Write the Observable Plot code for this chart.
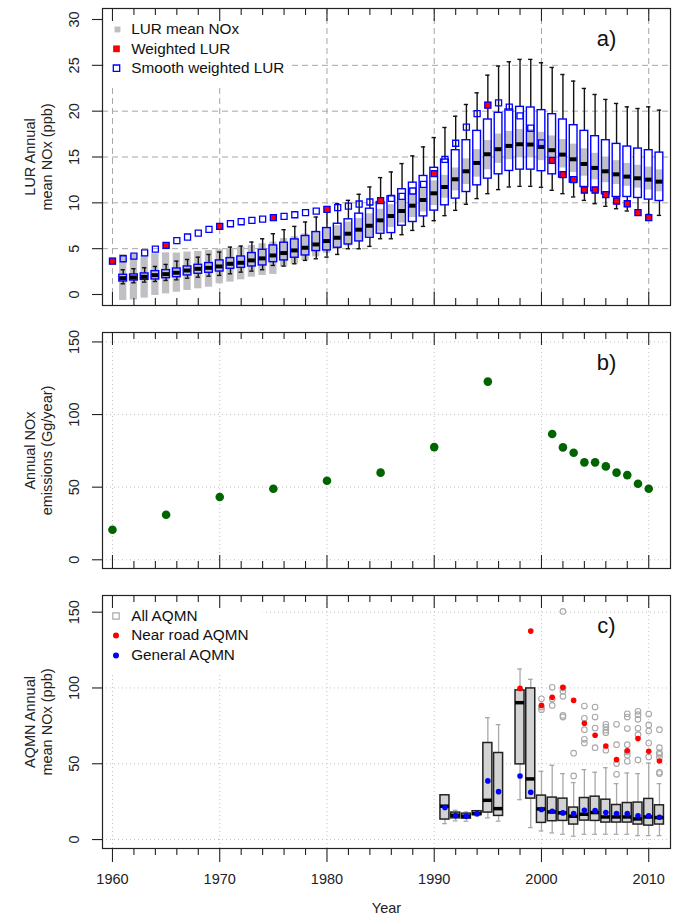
<!DOCTYPE html>
<html><head><meta charset="utf-8">
<script src="https://cdn.jsdelivr.net/npm/d3@7"></script>
<script src="https://cdn.jsdelivr.net/npm/@observablehq/plot@0.6"></script>
<style>
body{margin:0;background:#fff}
#chart{position:relative;width:679px;height:922px;background:#fff}
</style></head><body><div id="chart"></div>
<script>
// ---------- Panel a: LUR boxplots ----------
const lurYears = [1961,1962,1963,1964,1965,1966,1967,1968,1969,1970,1971,1972,1973,1974,1975,1976,1977,1978,1979,1980,1981,1982,1983,1984,1985,1986,1987,1988,1989,1990,1991,1992,1993,1994,1995,1996,1997,1998,1999,2000,2001,2002,2003,2004,2005,2006,2007,2008,2009,2010,2011];
const lurLo  = [1.17,1.28,1.35,1.42,1.53,1.60,1.78,1.89,2.00,2.08, 2.26,2.44,2.55,2.70,3.17,3.10,3.35,3.72,3.90,4.08, 4.37,4.99,4.99,5.25,6.08,6.08,6.52,6.99,7.43,8.05, 8.60,9.18,9.84,10.46,11.00,11.44,11.73,11.80,11.80,11.70, 11.37,11.00,10.64,10.27,9.91,9.62,9.36,9.11,8.89,8.74,8.63];
const lurQ1  = [1.42,1.53,1.60,1.64,1.78,1.89,2.08,2.26,2.37,2.51, 2.80,2.91,3.06,3.17,3.53,3.72,4.01,4.26,4.74,4.81, 5.10,5.46,5.79,6.19,6.63,6.70,7.50,7.91,8.52,9.15, 9.73,10.46,11.18,11.91,12.64,13.11,13.48,13.62,13.62,13.45, 13.11,12.75,12.20,11.73,11.26,10.93,10.64,10.64,10.53,10.35,10.20];
const lurMed = [1.78,1.86,1.93,2.11,2.22,2.37,2.62,2.80,2.91,3.06, 3.35,3.46,3.72,3.94,4.26,4.52,4.81,5.10,5.46,5.83, 6.19,6.63,7.07,7.50,8.09,8.56,9.11,9.69,10.31,11.04, 11.73,12.57,13.44,14.35,15.30,15.85,16.21,16.39,16.36,16.10, 15.74,15.26,14.75,14.24,13.81,13.44,13.11,12.86,12.68,12.53,12.31];
const lurQ3  = [2.15,2.19,2.30,2.55,2.66,2.84,3.06,3.24,3.43,3.72, 3.97,4.15,4.52,4.88,5.35,5.65,6.01,6.38,6.81,7.25, 7.72,8.20,8.82,9.36,10.09,10.71,11.48,12.20,12.93,13.82, 14.72,15.74,16.83,17.85,19.09,19.82,20.18,20.47,20.40,20.11, 19.67,19.09,18.47,17.85,17.27,16.83,16.43,16.14,15.92,15.74,15.48];
const lurHi  = [2.70,2.81,2.92,3.06,3.28,3.64,3.82,4.07,4.37,4.63, 5.17,5.28,5.72,6.08,6.63,7.07,7.43,7.91,8.45,9.36, 9.91,10.27,10.93,11.73,12.75,13.37,14.28,15.12,16.10,17.12, 18.22,19.45,20.73,22.00,23.93,24.92,25.39,25.65,25.65,25.28, 24.77,24.00,23.28,22.48,21.82,21.28,20.84,20.47,20.29,20.47,20.11];
const lurMeanLo = [-0.66,-0.59,-0.40,-0.11,0.07,0.25,0.44,0.62,0.80,1.17, 1.35,1.60,1.89,2.08,2.19,3.0,3.3,3.7,4.1,4.5, 4.9,5.3,5.8,6.3,6.8,7.3,7.8,8.4,9.0,9.7, 10.5,11.3,12.0,12.8,13.6,14.3,14.7,14.9,14.9,14.6, 14.2,13.8,13.3,12.9,12.5,12.2,12.0,11.8,11.6,11.4,11.2];
const lurMeanHi = [4.37,4.37,4.26,4.44,4.55,4.52,4.63,4.70,4.81,4.88, 4.99,5.17,5.35,5.54,5.72,6.1,6.3,6.6,6.9,7.2, 7.5,7.9,8.3,8.8,9.3,9.8,10.4,11.0,11.6,12.4, 13.0,13.8,14.8,15.8,16.8,17.5,17.8,18.0,18.0,17.7, 17.3,16.9,16.4,15.9,15.4,15.0,14.6,14.3,14.1,13.9,13.6];

const weightedYears = [1960,1965,1970,1975,1980,1985,1990,1995,2001,2002,2003,2004,2005,2006,2007,2008,2009,2010];
const weightedVals  = [3.64,5.36,7.43,8.38,9.29,10.24,13.19,20.66,14.64,13.08,12.53,11.40,11.40,10.90,10.20,9.90,8.93,8.38];

const smoothYears = [1960,1961,1962,1963,1964,1965,1966,1967,1968,1969,1970,1971,1972,1973,1974,1975,1976,1977,1978,1979,1980,1981,1982,1983,1984,1985,1986,1987,1988,1989,1990,1991,1992,1993,1994,1995,1996,1997,1998,1999,2000,2001,2002,2003,2004,2005,2006,2007,2008,2009,2010];
const smoothVals  = [3.64,3.90,4.19,4.55,4.95,5.36,5.87,6.27,6.70,7.10, 7.43,7.72,7.94,8.09,8.23,8.38,8.52,8.70,8.93,9.10, 9.29,9.47,9.65,9.87,10.09,10.24,10.49,10.71,11.29,12.02, 13.19,14.75,16.50,18.25,19.74,20.66,20.90,20.44,19.49,18.14, 16.54,14.64,13.08,12.53,11.40,11.40,10.90,10.20,9.90,8.93, 8.38];

// ---------- Panel b: emissions ----------
const emisYears = [1960,1965,1970,1975,1980,1985,1990,1995,2001,2002,2003,2004,2005,2006,2007,2008,2009,2010];
const emisVals  = [20.7,31.0,43.2,48.9,54.4,60.0,77.6,122.7,86.6,77.4,73.7,67.1,67.1,64.3,60.0,58.3,52.4,48.9];

// ---------- Panel c: AQMN ----------
const aqmnYears = [1991,1992,1993,1994,1995,1996,1998,1999,2000,2001,2002,2003,2004,2005,2006,2007,2008,2009,2010,2011];
const aqmnLo  = [10.5,12.3,12.1,15.6,14.3,12.1,26.3,7.9,5.7,4.4,3.5,2.2,3.5,3.5,3.5,3.5,3.5,2.6,2.6,2.6];
const aqmnQ1  = [13.2,14.0,13.8,16.2,17.8,15.6,49.6,27.0,11.0,12.1,12.3,9.9,12.5,12.3,11.2,11.2,11.2,9.9,9.2,9.9];
const aqmnMed = [22.0,16.0,15.4,17.1,25.9,20.4,90.3,40.0,20.2,18.2,17.6,15.4,16.7,17.8,14.9,14.9,14.9,13.6,14.9,14.5];
const aqmnQ3  = [29.2,17.8,17.1,18.7,63.7,57.1,98.4,99.7,29.0,27.7,27.0,21.1,27.4,28.3,26.3,22.8,24.1,24.4,26.8,22.6];
const aqmnHi  = [29.2,19.3,18.2,18.9,80.4,75.8,112.5,105.7,45.0,49.0,43.5,37.6,46.1,44.4,47.4,36.9,43.9,43.5,50.5,36.9];

const outlierYears = [2000,2000,2000, 2001,2001,2001, 2002,2002,2002,2002,2002,2002, 2003,2003, 2004,2004,2004,2004,2004, 2005,2005,2005,2005, 2006,2006,2006,2006,2006, 2007,2007,2007,2007, 2008,2008,2008,2008,2008,2008,2008, 2009,2009,2009,2009,2009,2009, 2010,2010,2010,2010,2010, 2011,2011,2011,2011,2011,2011,2011];
const outlierVals  = [92.9,87.4,85.7, 100.4,92.7,88.5, 150.5,99.9,97.8,94.5,81.9,80.8, 57.0,42.0, 88.1,80.0,72.5,66.1,63.7, 87.4,80.8,73.6,60.6, 76.0,74.2,72.1,70.5,58.9, 76.0,62.6,50.1,43.0, 83.0,80.8,73.2,62.6,57.8,55.6,51.6, 84.6,82.4,79.3,73.4,69.2,52.5, 82.8,75.6,71.6,63.7,54.5, 72.5,60.6,57.3,56.2,54.0,44.4,43.5];

const nearRoadYears = [1998,1999,2000,2001,2002,2003,2004,2005,2006,2007,2008,2009,2010,2011];
const nearRoadVals  = [99.7,137.5,88.5,93.8,100.4,91.8,76.7,68.8,61.7,52.7,58.6,66.6,58.2,51.8];
const generalYears = [1991,1992,1993,1994,1995,1996,1998,1999,2000,2001,2002,2003,2004,2005,2006,2007,2008,2009,2010,2011];
const generalVals  = [21.1,15.8,15.4,17.1,38.7,31.6,41.9,31.2,19.8,18.7,17.6,17.1,19.3,19.1,17.8,17.1,17.1,15.6,15.6,14.7];

// ---------- axes ----------
const majorYears = [1960,1970,1980,1990,2000,2010];
const minorYears = [1962,1964,1966,1968,1972,1974,1976,1978,1982,1984,1986,1988,1992,1994,1996,1998,2002,2004,2006,2008];
const aTicks = [0,5,10,15,20,25,30];
const aGrid = [5,10,15,20,25];
const bTicks = [0,50,100,150];
const cTicks = [0,50,100,150];
const legendA = ["LUR mean NOx","Weighted LUR","Smooth weighted LUR"];
const legendC = ["All AQMN","Near road AQMN","General AQMN"];

// ---------- tables ----------
const lur = lurYears.map((year,i)=>({year, lo:lurLo[i], q1:lurQ1[i], med:lurMed[i], q3:lurQ3[i], hi:lurHi[i], gLo:lurMeanLo[i], gHi:lurMeanHi[i]}));
const weighted = weightedYears.map((year,i)=>({year, v:weightedVals[i]}));
const smooth = smoothYears.map((year,i)=>({year, v:smoothVals[i]}));
const emis = emisYears.map((year,i)=>({year, v:emisVals[i]}));
const aqmn = aqmnYears.map((year,i)=>({year, lo:aqmnLo[i], q1:aqmnQ1[i], med:aqmnMed[i], q3:aqmnQ3[i], hi:aqmnHi[i]}));
const outliers = outlierYears.map((year,i)=>({year, v:outlierVals[i]}));
const nearRoad = nearRoadYears.map((year,i)=>({year, v:nearRoadVals[i]}));
const general = generalYears.map((year,i)=>({year, v:generalVals[i]}));

const FONT = '"Liberation Sans", Arial, Helvetica, sans-serif';
const xDomain = [1959.07, 2012.03];
const ML = 102, MR = 9, FW = 679 - ML - MR;
const chart = document.getElementById("chart");

function frameMarks(H, yTicks, title, tag, bottomInside) {
  const ts = {stroke: "#222", strokeWidth: 1.1};
  const m = [
    Plot.tickX(majorYears, {x: d => d, insetBottom: H - 13, ...ts}),
    Plot.tickX(minorYears, {x: d => d, insetBottom: H - 7, ...ts})
  ];
  if (bottomInside) m.push(
    Plot.tickX(majorYears, {x: d => d, insetTop: H - 13, ...ts}),
    Plot.tickX(minorYears, {x: d => d, insetTop: H - 7, ...ts})
  );
  m.push(
    Plot.axisY({ticks: yTicks, tickSize: 10, tickFormat: () => "", label: null, strokeWidth: 1.1}),
    Plot.text(yTicks, {y: d => d, text: d => String(d), frameAnchor: "left", dx: -28, rotate: -90, textAnchor: "middle", lineAnchor: "middle", fontSize: 14.5, fill: "#222"}),
    Plot.text([title], {text: d => d, frameAnchor: "left", dx: -64, rotate: -90, textAnchor: "middle", lineAnchor: "middle", fontSize: 14.5, lineHeight: 1.17, fill: "#222"}),
    Plot.text([tag], {text: d => d, frameAnchor: "top-right", dx: -64, dy: 30, textAnchor: "middle", lineAnchor: "middle", fontSize: 22, fill: "#111"}),
    Plot.frame({stroke: "#222", strokeWidth: 1.2})
  );
  return m;
}

function addPanel(top, height, mt, mb, yDomain, marks) {
  const svg = Plot.plot({
    width: 679, height, marginTop: mt, marginBottom: mb, marginLeft: ML, marginRight: MR,
    x: {domain: xDomain, axis: null},
    y: {domain: yDomain, axis: null},
    style: {fontFamily: FONT, background: "transparent", color: "#222", overflow: "visible"},
    marks
  });
  svg.style.position = "absolute";
  svg.style.left = "0px";
  svg.style.top = top + "px";
  chart.appendChild(svg);
}

// ---- Panel a ----
const Ha = 318 - 8 - 13;
const bw = 0.36, gw = 0.34, cw = 0.2, mw = 0.32;
addPanel(0, 318, 8, 13, [-1.2, 31.2], [
  Plot.ruleX(majorYears, {x: d => d, stroke: "#a6a6a6", strokeDasharray: "6,4", strokeWidth: 1}),
  Plot.ruleY(aGrid, {y: d => d, stroke: "#a6a6a6", strokeDasharray: "6,4", strokeWidth: 1}),
  Plot.rect(lur, {x1: d => d.year - bw, x2: d => d.year + bw, y1: "q1", y2: "q3", fill: "white"}),
  Plot.rect(lur, {x1: d => d.year - gw, x2: d => d.year + gw, y1: "gLo", y2: "gHi", fill: "#c0c0c4"}),
  Plot.ruleX(lur, {x: "year", y1: "lo", y2: "q1", stroke: "#111", strokeWidth: 1.4}),
  Plot.ruleX(lur, {x: "year", y1: "q3", y2: "hi", stroke: "#111", strokeWidth: 1.4}),
  Plot.ruleY(lur, {y: "lo", x1: d => d.year - cw, x2: d => d.year + cw, stroke: "#111", strokeWidth: 1.4}),
  Plot.ruleY(lur, {y: "hi", x1: d => d.year - cw, x2: d => d.year + cw, stroke: "#111", strokeWidth: 1.4}),
  Plot.rect(lur, {x1: d => d.year - bw, x2: d => d.year + bw, y1: "q1", y2: "q3", fill: "none", stroke: "#0000ff", strokeWidth: 1.4}),
  Plot.ruleY(lur, {y: "med", x1: d => d.year - mw, x2: d => d.year + mw, stroke: "#000", strokeWidth: 4}),
  Plot.dot(weighted, {x: "year", y: "v", symbol: "square", fill: "#ff0000", r: 3.8}),
  Plot.dot(smooth, {x: "year", y: "v", symbol: "square", fill: "none", stroke: "#0000ff", strokeWidth: 1.3, r: 3.4}),
  // legend
  Plot.frame({fill: "white", stroke: "none", insetLeft: 1, insetTop: 1, insetRight: FW - 185, insetBottom: Ha - 76}),
  Plot.dot([legendA[0]], {frameAnchor: "top-left", dx: 15, dy: 21, symbol: "square", fill: "#bebebe", r: 3.3}),
  Plot.dot([legendA[1]], {frameAnchor: "top-left", dx: 14, dy: 40.3, symbol: "square", fill: "#ff0000", r: 3.8}),
  Plot.dot([legendA[2]], {frameAnchor: "top-left", dx: 14, dy: 59.7, symbol: "square", fill: "none", stroke: "#0000ff", strokeWidth: 1.3, r: 3.6}),
  Plot.text([legendA[0]], {text: d => d, frameAnchor: "top-left", dx: 28.7, dy: 21, textAnchor: "start", lineAnchor: "middle", fontSize: 15.3, fill: "#111"}),
  Plot.text([legendA[1]], {text: d => d, frameAnchor: "top-left", dx: 28.7, dy: 40.3, textAnchor: "start", lineAnchor: "middle", fontSize: 15.3, fill: "#111"}),
  Plot.text([legendA[2]], {text: d => d, frameAnchor: "top-left", dx: 28.7, dy: 59.7, textAnchor: "start", lineAnchor: "middle", fontSize: 15.3, fill: "#111"}),
  ...frameMarks(Ha, aTicks, "LUR Annual\nmean NOx (ppb)", "a)", true)
]);

// ---- Panel b ----
const Hb = 262 - 14 - 12;
addPanel(318, 262, 14, 12, [-6, 156.5], [
  Plot.ruleX(majorYears, {x: d => d, stroke: "#c4c4c4", strokeDasharray: "1,3", strokeWidth: 1}),
  Plot.ruleY(bTicks, {y: d => d, stroke: "#c4c4c4", strokeDasharray: "1,3", strokeWidth: 1}),
  Plot.dot(emis, {x: "year", y: "v", fill: "#006400", r: 4.3}),
  ...frameMarks(Hb, bTicks, "Annual NOx\nemissions (Gg/year)", "b)", true)
]);

// ---- Panel c ----
const Hc = 342 - 15 - 74;
const cbw = 0.42, ccw = 0.22;
addPanel(580, 342, 15, 74, [-5.9, 161], [
  Plot.ruleX(majorYears, {x: d => d, stroke: "#c4c4c4", strokeDasharray: "1,3", strokeWidth: 1}),
  Plot.ruleY(cTicks, {y: d => d, stroke: "#c4c4c4", strokeDasharray: "1,3", strokeWidth: 1}),
  Plot.ruleX(aqmn, {x: "year", y1: "lo", y2: "q1", stroke: "#a8a8a8", strokeWidth: 1.3}),
  Plot.ruleX(aqmn, {x: "year", y1: "q3", y2: "hi", stroke: "#a8a8a8", strokeWidth: 1.3}),
  Plot.ruleY(aqmn, {y: "lo", x1: d => d.year - ccw, x2: d => d.year + ccw, stroke: "#a8a8a8", strokeWidth: 1.3}),
  Plot.ruleY(aqmn, {y: "hi", x1: d => d.year - ccw, x2: d => d.year + ccw, stroke: "#a8a8a8", strokeWidth: 1.3}),
  Plot.rect(aqmn, {x1: d => d.year - cbw, x2: d => d.year + cbw, y1: "q1", y2: "q3", fill: "#d3d3d3", stroke: "#222", strokeWidth: 1.5}),
  Plot.ruleY(aqmn, {y: "med", x1: d => d.year - cbw, x2: d => d.year + cbw, stroke: "#000", strokeWidth: 3.5}),
  Plot.dot(outliers, {x: "year", y: "v", r: 2.8, stroke: "#a8a8a8", fill: "none", strokeWidth: 1.1}),
  Plot.dot(nearRoad, {x: "year", y: "v", r: 2.8, fill: "#ff0000"}),
  Plot.dot(general, {x: "year", y: "v", r: 2.8, fill: "#0000ff"}),
  // legend
  Plot.frame({fill: "white", stroke: "none", insetLeft: 1, insetTop: 1, insetRight: FW - 160, insetBottom: Hc - 78}),
  Plot.dot([legendC[0]], {frameAnchor: "top-left", dx: 13.5, dy: 20.5, symbol: "square", fill: "none", stroke: "#a8a8a8", strokeWidth: 1.2, r: 3.6}),
  Plot.dot([legendC[1]], {frameAnchor: "top-left", dx: 13.5, dy: 40, fill: "#ff0000", r: 3}),
  Plot.dot([legendC[2]], {frameAnchor: "top-left", dx: 13.5, dy: 60, fill: "#0000ff", r: 3}),
  Plot.text([legendC[0]], {text: d => d, frameAnchor: "top-left", dx: 28.7, dy: 20.5, textAnchor: "start", lineAnchor: "middle", fontSize: 15.3, fill: "#111"}),
  Plot.text([legendC[1]], {text: d => d, frameAnchor: "top-left", dx: 28.7, dy: 40, textAnchor: "start", lineAnchor: "middle", fontSize: 15.3, fill: "#111"}),
  Plot.text([legendC[2]], {text: d => d, frameAnchor: "top-left", dx: 28.7, dy: 60, textAnchor: "start", lineAnchor: "middle", fontSize: 15.3, fill: "#111"}),
  ...frameMarks(Hc, cTicks, "AQMN Annual\nmean NOx (ppb)", "c)", false),
  Plot.axisX({ticks: majorYears, tickSize: 14, tickFormat: () => "", label: null, strokeWidth: 1.1}),
  Plot.axisX({ticks: minorYears, tickSize: 7, tickFormat: () => "", label: null, strokeWidth: 1.1}),
  Plot.text(majorYears, {x: d => d, text: d => String(d), frameAnchor: "bottom", dy: 31, textAnchor: "middle", lineAnchor: "middle", fontSize: 14.5, fill: "#222"}),
  Plot.text(["Year"], {text: d => d, frameAnchor: "bottom", dy: 60, textAnchor: "middle", lineAnchor: "middle", fontSize: 14.5, fill: "#222"})
]);
</script></body></html>
